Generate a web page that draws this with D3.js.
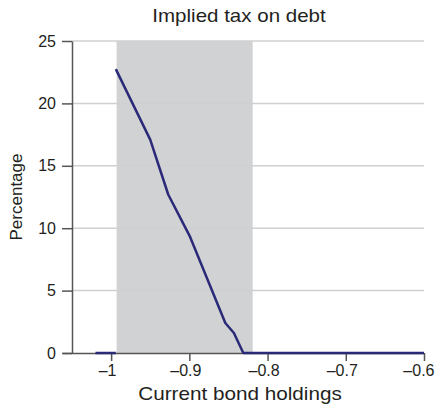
<!DOCTYPE html>
<html>
  <head>
    <meta charset="UTF-8">
    <title>Implied tax on debt</title>
    <style>
      body { margin: 0; background: #fff; }
      text { font-family: 'Liberation Sans', Arial, sans-serif; fill: #231f20; }
    </style>
  </head>
  <body>
    <div id='chart'></div>
    <script src='https://d3js.org/d3.v7.min.js'></script>
    <script>
      // data
      const bondHoldings = [-0.994, -0.95, -0.927, -0.899, -0.854, -0.843, -0.831, -0.6];
      const taxRate = [22.75, 17.1, 12.7, 9.3, 2.4, 1.6, 0.0, 0.0];
      const lowBond = [-1.02, -0.994];
      const lowTax = [0, 0];
      const shadedRange = [-0.993, -0.819];
      const xTicks = [-1, -0.9, -0.8, -0.7, -0.6];
      const yTicks = [0, 5, 10, 15, 20, 25];

      const width = 435;
      const height = 407;

      const svg = d3.select('#chart')
        .append('svg')
        .attr('width', width)
        .attr('height', height);

      const x = d3.scaleLinear()
        .domain([-1.05, -0.6])
        .range([72, 424]);

      const y = d3.scaleLinear()
        .domain([0, 25])
        .range([353, 41]);

      // shaded band
      svg.append('rect')
        .attr('x', x(shadedRange[0]))
        .attr('y', y(25))
        .attr('width', x(shadedRange[1]) - x(shadedRange[0]))
        .attr('height', y(0) - y(25))
        .attr('fill', '#d1d2d4');

      // gridlines
      svg.append('g')
        .selectAll('line')
        .data(yTicks.filter((d) => d > 0))
        .enter().append('line')
        .attr('x1', x.range()[0])
        .attr('x2', x.range()[1])
        .attr('y1', (d) => y(d))
        .attr('y2', (d) => y(d))
        .attr('stroke', '#d0d0d0')
        .attr('stroke-width', 1.5);

      const fmt = (d) => String(d).replace('-', '\u2013');

      const yAxis = svg.append('g')
        .attr('transform', `translate(${x.range()[0]},0)`)
        .call(d3.axisLeft(y)
          .tickValues(yTicks)
          .tickSize(10)
          .tickPadding(6)
          .tickSizeOuter(0));
      yAxis.selectAll('text').style('font-size', '16px');

      const xAxis = svg.append('g')
        .attr('transform', `translate(0,${y(0)})`)
        .call(d3.axisBottom(x)
          .tickValues(xTicks)
          .tickFormat(fmt)
          .tickSize(8)
          .tickPadding(4)
          .tickSizeOuter(0));
      xAxis.selectAll('text')
        .style('font-size', '16px')
        .attr('dx', -4);
      // keep the last label inside the picture
      xAxis.selectAll('.tick:last-of-type text')
        .attr('text-anchor', 'end')
        .attr('dx', 0)
        .attr('x', 10);
      xAxis.select('.domain').attr('d', `M63,0.5H${x.range()[1]}`);

      svg.selectAll('.domain, .tick line')
        .attr('stroke', '#555')
        .attr('stroke-width', 1.5);

      const line = d3.line()
        .x((d) => x(d[0]))
        .y((d) => y(d[1]));

      [d3.zip(bondHoldings, taxRate), d3.zip(lowBond, lowTax)].forEach((pts) => {
        svg.append('path')
          .datum(pts)
          .attr('fill', 'none')
          .attr('stroke', '#2b2a78')
          .attr('stroke-width', 2.5)
          .attr('stroke-linejoin', 'round')
          .attr('d', line);
      });

      svg.append('text')
        .attr('transform', 'translate(239,22) scale(1.14,1)')
        .attr('text-anchor', 'middle')
        .style('font-size', '18px')
        .text('Implied tax on debt');

      svg.append('text')
        .attr('transform', 'translate(240,400) scale(1.15,1)')
        .attr('text-anchor', 'middle')
        .style('font-size', '18px')
        .text('Current bond holdings');

      svg.append('text')
        .attr('transform', 'translate(22,197) rotate(-90)')
        .attr('text-anchor', 'middle')
        .style('font-size', '17px')
        .text('Percentage');
    </script>
  </body>
</html>
